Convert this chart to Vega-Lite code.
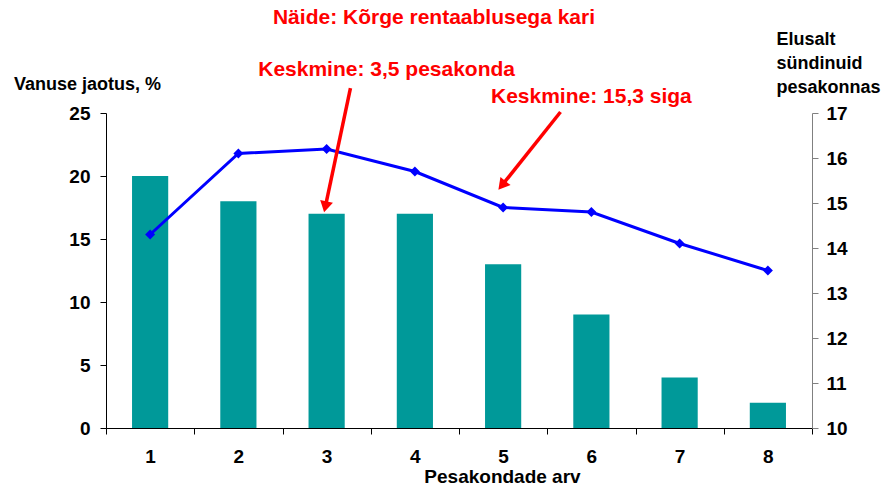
{
  "$schema": "https://vega.github.io/schema/vega-lite/v6.json",
  "width": 706,
  "height": 315,
  "autosize": {"type": "none"},
  "padding": {"left": 106, "top": 113, "right": 73, "bottom": 60},
  "background": "white",
  "title": {"text": "Näide: Kõrge rentaablusega kari", "color": "#FF0000", "fontSize": 21, "font": "Liberation Sans", "fontWeight": "bold", "anchor": "middle", "dx": -25, "offset": 2},
  "config": {"view": {"stroke": null}, "font": "Liberation Sans"},
  "datasets": {
    "main": [
      {"arv": "1", "pct": 20, "pesa": 14.3},
      {"arv": "2", "pct": 18, "pesa": 16.1},
      {"arv": "3", "pct": 17, "pesa": 16.2},
      {"arv": "4", "pct": 17, "pesa": 15.7},
      {"arv": "5", "pct": 13, "pesa": 14.9},
      {"arv": "6", "pct": 9, "pesa": 14.8},
      {"arv": "7", "pct": 4, "pesa": 14.1},
      {"arv": "8", "pct": 2, "pesa": 13.5}
    ],
    "arrows": [
      {"id": "a", "x": 3.27, "y": 26.98, "x2": 2.99, "y2": 17.7},
      {"id": "b", "x": 5.65, "y": 25.08, "x2": 5.0, "y2": 19.37}
    ],
    "notes": [
      {"label": "Keskmine: 3,5 pesakonda", "x": 3.68, "y": 28.4},
      {"label": "Keskmine: 15,3 siga", "x": 6.0, "y": 26.27}
    ]
  },
  "layer": [
    {
      "data": {"name": "main"},
      "mark": {"type": "bar", "color": "#009999", "width": {"band": 0.41}},
      "encoding": {
        "x": {"field": "arv", "type": "ordinal", "scale": {"paddingInner": 0, "paddingOuter": 0},
          "axis": {"title": "Pesakondade arv", "labelAngle": 0, "tickBand": "extent", "domainColor": "#000000", "tickColor": "#000000", "tickSize": 6, "labelFontSize": 19, "labelFontWeight": "bold", "labelColor": "#000000", "labelPadding": 13, "titleFontSize": 19, "titleFontWeight": "bold", "titleColor": "#000000", "titleX": 396, "titleY": 54, "titleAlign": "center", "titleBaseline": "alphabetic"}},
        "y": {"field": "pct", "type": "quantitative", "scale": {"domain": [0, 25], "nice": false},
          "axis": {"values": [0, 5, 10, 15, 20, 25], "grid": false, "title": "Vanuse jaotus, %", "titleAngle": 0, "titleX": -19, "titleY": -24, "titleAlign": "center", "titleBaseline": "alphabetic", "titleFontSize": 18, "titleFontWeight": "bold", "titleColor": "#000000", "domainColor": "#000000", "tickColor": "#000000", "tickSize": 6, "labelFontSize": 19, "labelFontWeight": "bold", "labelColor": "#000000", "labelPadding": 10}}
      }
    },
    {
      "data": {"name": "main"},
      "mark": {"type": "line", "color": "#0000FF", "strokeWidth": 3, "point": {"shape": "diamond", "filled": true, "color": "#0000FF", "size": 100}},
      "encoding": {
        "x": {"field": "arv", "type": "ordinal", "scale": {"paddingInner": 0, "paddingOuter": 0}, "axis": null},
        "y": {"field": "pesa", "type": "quantitative", "scale": {"domain": [10, 17], "nice": false},
          "axis": {"orient": "right", "values": [10, 11, 12, 13, 14, 15, 16, 17], "grid": false, "title": ["Elusalt", "sündinuid", "pesakonnas"], "titleAngle": 0, "titleX": -36, "titleY": -69, "titleAlign": "left", "titleBaseline": "alphabetic", "titleLineHeight": 24, "titleFontSize": 18, "titleFontWeight": "bold", "titleColor": "#000000", "domainColor": "#808080", "tickColor": "#808080", "tickSize": 6, "labelFontSize": 19, "labelFontWeight": "bold", "labelColor": "#000000", "labelPadding": 8}}
      }
    },
    {
      "data": {"name": "arrows"},
      "mark": {"type": "rule", "color": "#FF0000", "strokeWidth": 3.5},
      "encoding": {
        "x": {"field": "x", "type": "quantitative", "scale": {"domain": [0.5, 8.5], "nice": false, "zero": false}, "axis": null},
        "y": {"field": "y", "type": "quantitative", "scale": {"domain": [0, 25], "nice": false}, "axis": null},
        "x2": {"field": "x2"},
        "y2": {"field": "y2"}
      }
    },
    {
      "data": {"name": "arrows"},
      "transform": [{"filter": "datum.id == 'a'"}],
      "mark": {"type": "point", "shape": "triangle", "filled": true, "color": "#FF0000", "opacity": 1, "size": 170, "angle": 192.6},
      "encoding": {
        "x": {"field": "x2", "type": "quantitative", "scale": {"domain": [0.5, 8.5], "nice": false, "zero": false}, "axis": null},
        "y": {"field": "y2", "type": "quantitative", "scale": {"domain": [0, 25], "nice": false}, "axis": null}
      }
    },
    {
      "data": {"name": "arrows"},
      "transform": [{"filter": "datum.id == 'b'"}],
      "mark": {"type": "point", "shape": "triangle", "filled": true, "color": "#FF0000", "opacity": 1, "size": 170, "angle": 219},
      "encoding": {
        "x": {"field": "x2", "type": "quantitative", "scale": {"domain": [0.5, 8.5], "nice": false, "zero": false}, "axis": null},
        "y": {"field": "y2", "type": "quantitative", "scale": {"domain": [0, 25], "nice": false}, "axis": null}
      }
    },
    {
      "data": {"name": "notes"},
      "mark": {"type": "text", "color": "#FF0000", "fontSize": 21, "fontWeight": "bold", "align": "center", "baseline": "middle"},
      "encoding": {
        "x": {"field": "x", "type": "quantitative", "scale": {"domain": [0.5, 8.5], "nice": false, "zero": false}, "axis": null},
        "y": {"field": "y", "type": "quantitative", "scale": {"domain": [0, 25], "nice": false}, "axis": null},
        "text": {"field": "label"}
      }
    }
  ],
  "resolve": {"scale": {"x": "independent", "y": "independent"}}
}
